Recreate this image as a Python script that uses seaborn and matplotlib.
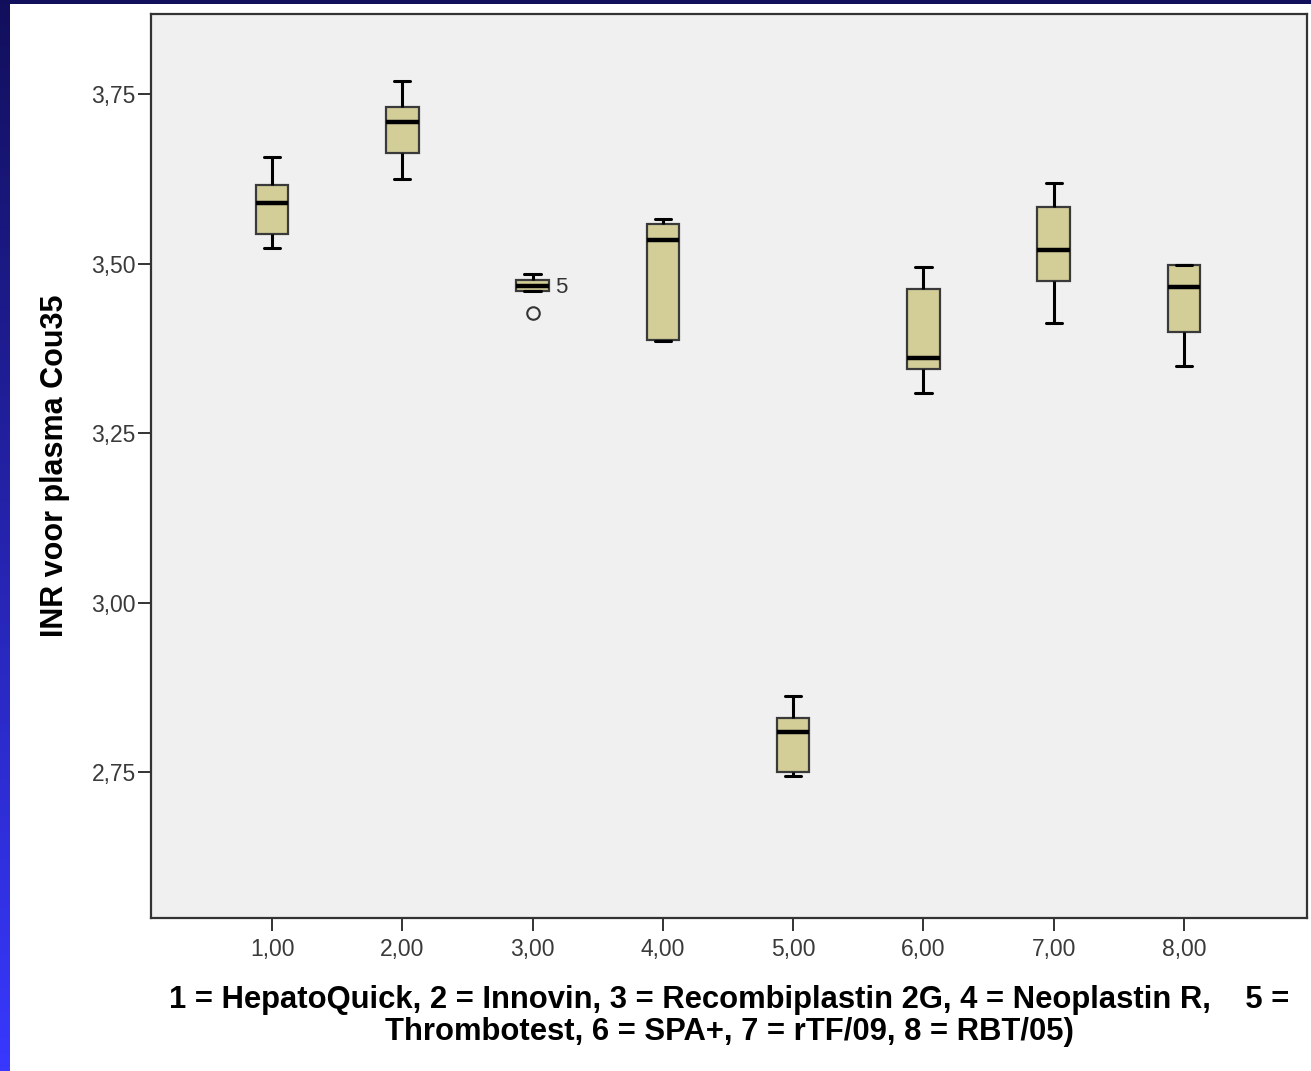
import numpy as np
import pandas as pd
import matplotlib
matplotlib.use("Agg")
import matplotlib.pyplot as plt
from matplotlib.patches import Rectangle
import seaborn as sns

# INR values per reagent (plasma Cou35)
reagents = ["1,00", "2,00", "3,00", "4,00", "5,00", "6,00", "7,00", "8,00"]
inr_1 = [3.523, 3.544, 3.589, 3.616, 3.657]
inr_2 = [3.625, 3.663, 3.709, 3.731, 3.769]
inr_3 = [3.427, 3.459, 3.467, 3.476, 3.484]
inr_4 = [3.386, 3.387, 3.535, 3.558, 3.566]
inr_5 = [2.744, 2.750, 2.809, 2.830, 2.862]
inr_6 = [3.309, 3.344, 3.361, 3.462, 3.495]
inr_7 = [3.412, 3.474, 3.520, 3.583, 3.619]
inr_8 = [3.349, 3.399, 3.465, 3.498, 3.498]
y_ticks = [2.75, 3.00, 3.25, 3.50, 3.75]
y_tick_labels = ["2,75", "3,00", "3,25", "3,50", "3,75"]
outlier_label = "5"
outlier_group = 2
outlier_value = 3.465

groups = [inr_1, inr_2, inr_3, inr_4, inr_5, inr_6, inr_7, inr_8]
df = pd.DataFrame({
    "reagent": np.repeat(reagents, [len(g) for g in groups]),
    "inr": np.concatenate(groups),
})

sns.set_theme(style="ticks")
plt.rcParams["font.family"] = ["Liberation Sans", "DejaVu Sans"]

W, H = 1311, 1071
fig = plt.figure(figsize=(W / 100, H / 100), dpi=100)
fig.patch.set_facecolor("white")

# blue slide border (top band + left gradient)
bg = fig.add_axes([0, 0, 1, 1], zorder=-10)
bg.set_axis_off()
top_c = np.array([0.07, 0.06, 0.36])
bot_c = np.array([0.22, 0.22, 1.0])
t = np.linspace(0, 1, 256)[:, None]
grad = (top_c[None, :] * (1 - t) + bot_c[None, :] * t)[:, None, :]
bg.imshow(grad, aspect="auto", extent=[0, 1, 0, 1], origin="upper")
bg.add_patch(Rectangle((10 / W, 0), 1 - 10 / W, 1 - 4 / H, facecolor="white",
                       edgecolor="none"))
bg.add_patch(Rectangle((10 / W, 1 - 4 / H), 1 - 10 / W, 4 / H, facecolor=top_c,
                       edgecolor="none"))
bg.set_xlim(0, 1)
bg.set_ylim(0, 1)

ax = fig.add_axes([151 / W, 1 - 918 / H, 1156 / W, 904 / H])
ax.set_facecolor("#f0f0f0")

sns.boxplot(data=df, x="reagent", y="inr", order=reagents, ax=ax,
            color="#d3ce98", saturation=1, width=0.25, whis=1.5,
            linecolor="#3a3a3a", linewidth=1.6,
            medianprops=dict(color="black", linewidth=3.2),
            whiskerprops=dict(color="black", linewidth=2.2),
            capprops=dict(color="black", linewidth=2.2),
            flierprops=dict(marker="o", markersize=9, markerfacecolor="none",
                            markeredgecolor="#333333", markeredgewidth=1.5))

ax.text(outlier_group + 0.17, outlier_value, outlier_label, ha="left", va="center",
        fontsize=16, color="#333333")

ax.set_xlim(-0.929, 7.944)
ax.set_ylim(2.5347, 3.868)
ax.set_yticks(y_ticks)
ax.set_yticklabels(y_tick_labels)

for s in ax.spines.values():
    s.set_visible(True)
    s.set_color("#333333")
    s.set_linewidth(1.6)

ax.tick_params(axis="both", which="major", bottom=True, left=True, length=9.5,
               width=1.4, color="#333333", labelsize=16.5, labelcolor="#3a3a3a",
               direction="out")
ax.tick_params(axis="x", pad=5)
ax.tick_params(axis="y", pad=1.5)

ax.set_ylabel("INR voor plasma Cou35", fontsize=22, fontweight="bold",
              color="black", va="center")
ax.yaxis.set_label_coords(-0.083, 0.5)
ax.set_xlabel("1 = HepatoQuick, 2 = Innovin, 3 = Recombiplastin 2G, 4 = Neoplastin R,    5 =\n"
              "Thrombotest, 6 = SPA+, 7 = rTF/09, 8 = RBT/05)",
              fontsize=22.3, fontweight="bold", color="black", va="top",
              linespacing=1.08)
ax.xaxis.set_label_coords(0.5, -0.074)

fig.savefig("out.png", dpi=100)
